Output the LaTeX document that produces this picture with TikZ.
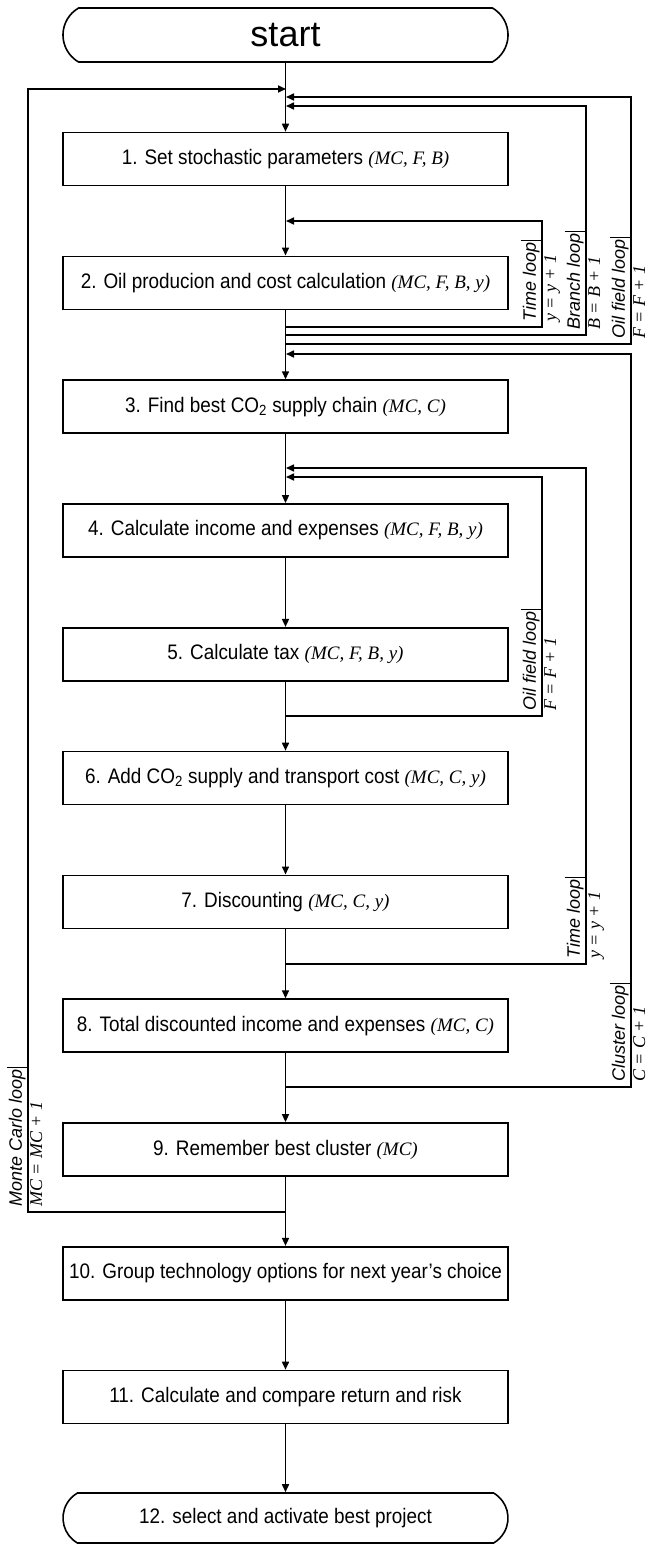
\documentclass[tikz,border=0pt]{standalone}
\usepackage{fontspec}
\setmainfont{Liberation Sans}[FakeStretch=0.9]
\newfontfamily\labfont{Liberation Sans}
\newfontfamily\mfont{Liberation Serif}
\usetikzlibrary{arrows.meta,shapes.misc}
\newcommand{\mvar}[1]{{\mfont\itshape\fontsize{19}{22}\selectfont #1}}
\begin{document}
\begin{tikzpicture}[x=1pt,y=-1pt,
  line width=1.6pt,
  arr/.style={-{Triangle[length=8pt,width=7pt]}},
  stepbox/.style={draw, minimum width=445pt, minimum height=53pt, inner sep=0pt, font=\fontsize{21}{25}\selectfont},
  term/.style={draw, rounded rectangle, rounded rectangle arc length=120, minimum width=445pt, minimum height=54pt, inner sep=0pt},
  uplab/.style={rotate=90, anchor=south west, inner sep=1.5pt, font=\labfont\itshape\fontsize{18}{20}\selectfont},
  lowlab/.style={rotate=90, anchor=north west, inner sep=1.5pt, font=\mfont\itshape\fontsize{18}{20}\selectfont},
  tick/.style={line width=1.3pt}
]
\useasboundingbox (0,0) rectangle (648,1544);

\node[term, font=\labfont\fontsize{36}{40}\selectfont] (start) at (285.5,35) {start};
\node[stepbox] (b1) at (285.5,159) {1. Set stochastic parameters \mvar{(MC, F, B)}};
\node[stepbox] (b2) at (285.5,282.8) {2. Oil producion and cost calculation \mvar{(MC, F, B, y)}};
\node[stepbox] (b3) at (285.5,406.6) {3. Find best CO\textsubscript{2} supply chain \mvar{(MC, C)}};
\node[stepbox] (b4) at (285.5,530.4) {4. Calculate income and expenses \mvar{(MC, F, B, y)}};
\node[stepbox] (b5) at (285.5,654.2) {5. Calculate tax \mvar{(MC, F, B, y)}};
\node[stepbox] (b6) at (285.5,778) {6. Add CO\textsubscript{2} supply and transport cost \mvar{(MC, C, y)}};
\node[stepbox] (b7) at (285.5,901.8) {7. Discounting \mvar{(MC, C, y)}};
\node[stepbox] (b8) at (285.5,1025.6) {8. Total discounted income and expenses \mvar{(MC, C)}};
\node[stepbox] (b9) at (285.5,1149.4) {9. Remember best cluster \mvar{(MC)}};
\node[stepbox] (b10) at (285.5,1273.2) {10. Group technology options for next year’s choice};
\node[stepbox] (b11) at (285.5,1397) {11. Calculate and compare return and risk};
\node[term, minimum height=50pt, font=\fontsize{21}{25}\selectfont] (b12) at (285.5,1518) {12. select and activate best project};

\foreach \a/\b in {start/b1,b1/b2,b2/b3,b3/b4,b4/b5,b5/b6,b6/b7,b7/b8,b8/b9,b9/b10,b10/b11,b11/b12}
  \draw[arr] (\a.south) -- (\b.north);

% loops: name / x / bottom y / top y / upper label / lower label
\foreach \n/\lx/\ly/\ty/\up/\lo in {
  mc/28/1212/89/{Monte Carlo loop}/{MC = MC + 1},
  ofa/631/344/97/{Oil field loop}/{F = F + 1},
  br/586/335/106/{Branch loop}/{B = B + 1},
  tma/542/327/221/{Time loop}/{y = y + 1},
  cl/631/1087/354/{Cluster loop}/{C = C + 1},
  tmb/586/964/468/{Time loop}/{y = y + 1},
  ofb/542/716/477/{Oil field loop}/{F = F + 1}} {
  \coordinate (\n S) at (285.5,\ly);
  \coordinate (\n A) at (\lx,\ly);
  \coordinate (\n B) at (\lx,\ty);
  \coordinate (\n E) at (286,\ty);
  \draw[arr] (\n S) -- (\n A) -- (\n B) -- (\n E);
  \node[uplab] (\n U) at (\lx,\ly-3) {\up};
  \node[lowlab] (\n L) at (\lx,\ly-3) {\lo};
  \draw[tick] (\n U.north east) -- (\n U.south east);
}
\end{tikzpicture}
\end{document}
